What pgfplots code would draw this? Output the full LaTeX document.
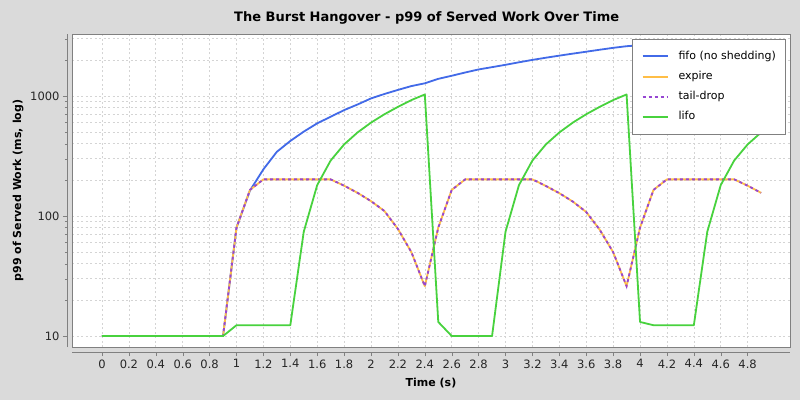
\documentclass[border=0pt]{standalone}
\usepackage{fontspec}
\setmainfont{DejaVu Sans}
\usepackage{pgfplots}
\usepackage{pgfplotstable}
\pgfplotsset{compat=1.18}

\definecolor{bgc}{RGB}{218,218,218}
\definecolor{fifoc}{RGB}{66,106,232}
\definecolor{expirec}{RGB}{255,190,70}
\definecolor{tailc}{RGB}{150,70,210}
\definecolor{lifoc}{RGB}{72,210,62}
\definecolor{gridc}{RGB}{212,212,212}

\pgfplotstableread{
t    fifo  expire tail  lifo
0.0  10    10     10    10
0.1  10    10     10    10
0.2  10    10     10    10
0.3  10    10     10    10
0.4  10    10     10    10
0.5  10    10     10    10
0.6  10    10     10    10
0.7  10    10     10    10
0.8  10    10     10    10
0.9  10    10     10    10
1.0  80    80     80    12.3
1.1  163   165    165   12.3
1.2  245   202    202   12.3
1.3  343   202    202   12.3
1.4  422   202    202   12.3
1.5  505   202    202   74
1.6  592   202    202   181
1.7  672   202    202   290
1.8  763   179    179   395
1.9  850   156    156   497
2.0  955   133    133   600
2.1  1040  110    110   705
2.2  1124  78     78    812
2.3  1210  50     50    925
2.4  1276  26     26    1030
2.5  1390  80     80    13.1
2.6  1475  165    165   10
2.7  1570  202    202   10
2.8  1665  202    202   10
2.9  1740  202    202   10
3.0  1820  202    202   74
3.1  1910  202    202   181
3.2  2000  202    202   290
3.3  2085  178    178   395
3.4  2170  155    155   497
3.5  2255  132    132   600
3.6  2340  108    108   705
3.7  2430  77     77    812
3.8  2520  50     50    925
3.9  2600  26     26    1030
4.0  2650  80     80    13.1
4.1  2690  165    165   12.3
4.2  2730  202    202   12.3
4.3  2760  202    202   12.3
4.4  2790  202    202   12.3
4.5  2810  202    202   74
4.6  2830  202    202   181
4.7  2845  202    202   290
4.8  2860  179    179   395
4.9  2870  156    156   497
}\data

\begin{document}
\begin{tikzpicture}
\fill[bgc] (0pt,0pt) rectangle (800pt,400pt);
\begin{axis}[
    at={(72pt,53pt)}, anchor=south west,
    scale only axis, width=718pt, height=313pt,
    ymode=log, log basis y=10,
    xmin=-0.223, xmax=5.115,
    ymin=8.1, ymax=3287,
    axis background/.style={fill=white},
    axis x line*=bottom, axis y line*=left,
    axis x line shift=5pt, axis y line shift=5pt,
    axis line style={draw=gray, -},
    tick align=outside,
    major tick length=4pt, minor tick length=2pt,
    every tick/.style={gray},
    xtick={0,0.2,0.4,0.6,0.8,1,1.2,1.4,1.6,1.8,2,2.2,2.4,2.6,2.8,3,3.2,3.4,3.6,3.8,4,4.2,4.4,4.6,4.8},
    ytick={10,100,1000},
    minor ytick={20,30,40,50,60,70,80,90,200,300,400,500,600,700,800,900,2000,3000},
    log ticks with fixed point,
    /pgf/number format/1000 sep={},
    /pgf/number format/assume math mode=true,
    ticklabel style={font=\fontsize{11.5}{13}\selectfont, text=black!85},
    grid=both,
    major grid style={gridc, dash pattern=on 2pt off 2.5pt, line width=0.6pt},
    minor grid style={gridc, dash pattern=on 2pt off 2.5pt, line width=0.6pt},
    title={The Burst Hangover - p99 of Served Work Over Time},
    title style={font=\bfseries\fontsize{13}{15}\selectfont, at={(axis description cs:0.494,1)}, anchor=base, yshift=6pt},
    xlabel={Time (s)},
    xlabel style={font=\bfseries\fontsize{11}{13}\selectfont, at={(axis description cs:0.5,-0.115)}, anchor=center},
    ylabel={p99 of Served Work (ms, log)},
    ylabel style={font=\bfseries\fontsize{11}{13}\selectfont, at={(axis description cs:-0.0752,0.5)}, anchor=center},
    legend style={at={(1,1)}, anchor=north east, xshift=-5pt, yshift=-5pt,
        draw=gray, fill=white, font=\fontsize{11}{13}\selectfont,
        inner xsep=9pt, inner ysep=12pt, row sep=9.6pt,
        nodes={inner sep=0pt, text height=8pt, text depth=2.5pt, anchor=west},
        /tikz/every odd column/.append style={column sep=10pt}},
    legend cell align=left,
    legend image code/.code={\draw[#1, line width=2pt] (0pt,0pt) -- (25pt,0pt);},
    after end axis/.code={\draw[gray, line width=0.8pt] (rel axis cs:0,0) rectangle (rel axis cs:1,1);},
]
\addplot[fifoc, line width=1.8pt, mark=none, line join=round] table[x=t, y=fifo] {\data};
\addlegendentry{fifo (no shedding)}
\addplot[expirec, line width=1.8pt, mark=none, line join=round] table[x=t, y=expire] {\data};
\addlegendentry{expire}
\addplot[tailc, line width=1.8pt, mark=none, dash pattern=on 3pt off 3pt] table[x=t, y=tail] {\data};
\addlegendentry{tail-drop}
\addplot[lifoc, line width=1.8pt, mark=none, line join=round] table[x=t, y=lifo] {\data};
\addlegendentry{lifo}
\end{axis}
\pgfresetboundingbox
\path[use as bounding box] (0pt,0pt) rectangle (800pt,400pt);
\end{tikzpicture}
\end{document}
